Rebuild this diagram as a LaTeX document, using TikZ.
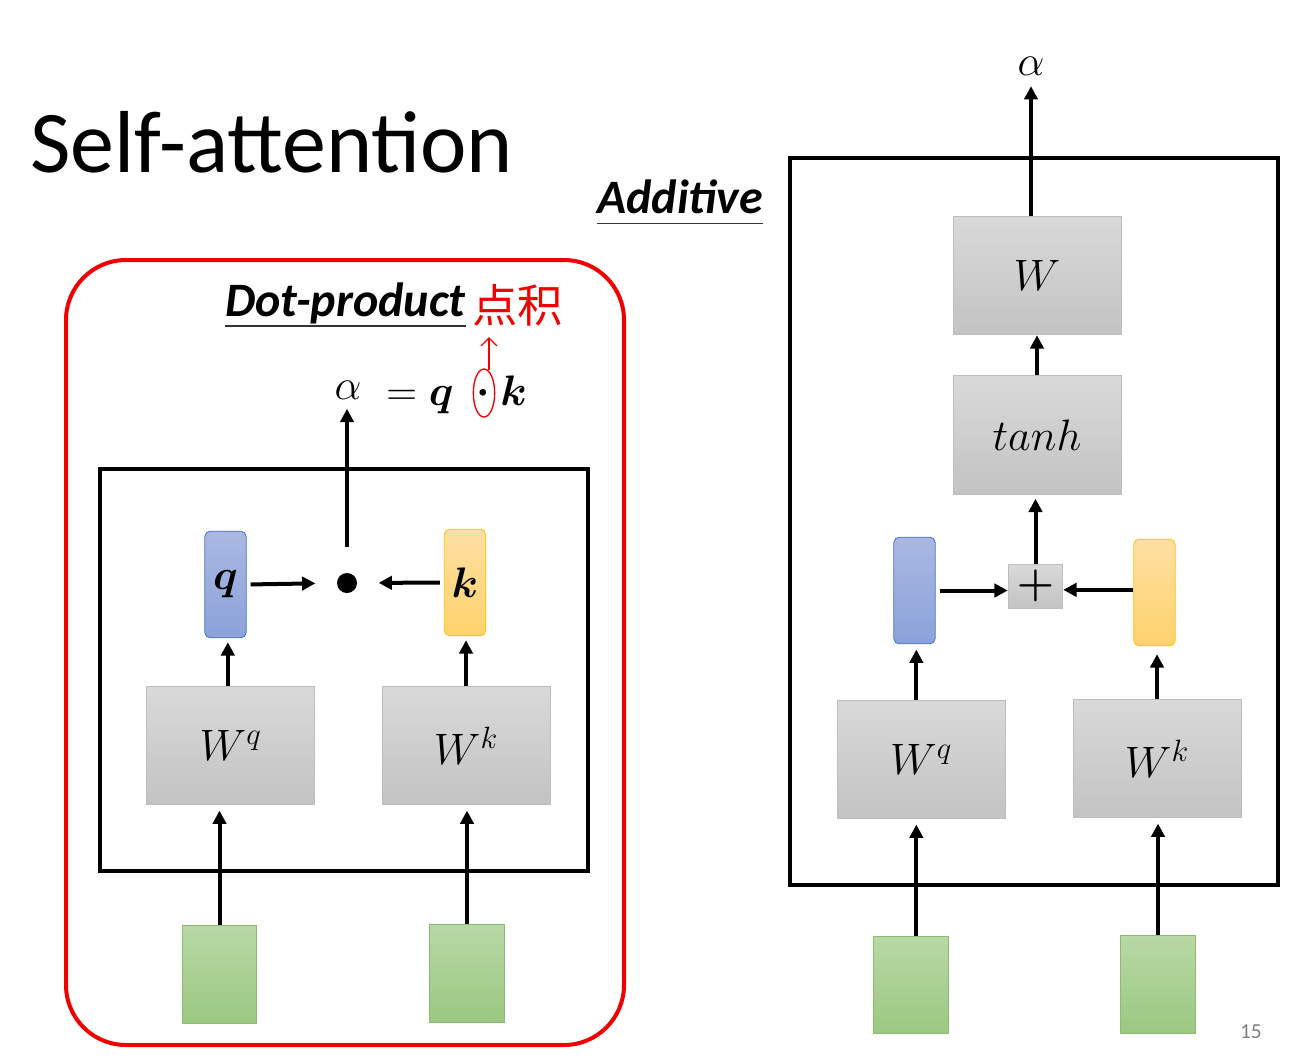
\RequirePackage{fix-cm}
\documentclass[tikz,border=0pt]{standalone}
\usepackage{amsmath}
\usepackage{fontspec}
\setmainfont{Carlito}
\newfontfamily\cjk{Noto Sans CJK SC}
\usetikzlibrary{arrows.meta}
\definecolor{grayT}{HTML}{D9D9D9}
\definecolor{grayB}{HTML}{C3C3C3}
\definecolor{grayE}{HTML}{BDBDBD}
\definecolor{blueT}{HTML}{AAB8E2}
\definecolor{blueB}{HTML}{8BA2DA}
\definecolor{blueE}{HTML}{4472C4}
\definecolor{orT}{HTML}{FFE0A3}
\definecolor{orB}{HTML}{FFD26C}
\definecolor{orE}{HTML}{FFC000}
\definecolor{grT}{HTML}{B8D8A6}
\definecolor{grB}{HTML}{9BC881}
\definecolor{grE}{HTML}{8CBB72}
\definecolor{redA}{HTML}{F20000}
\begin{document}
\begin{tikzpicture}[x=0.75pt,y=-0.75pt,
  arr/.style={line width=3pt,-{Triangle[length=10pt,width=10pt]}},
  wbox/.style={draw=grayE,line width=0.6pt,top color=grayT,bottom color=grayB,
    minimum width=126pt,minimum height=89pt,inner sep=0pt,font=\fontsize{33}{38}\selectfont},
  vecq/.style={draw=blueE,line width=0.6pt,top color=blueT,bottom color=blueB,rounded corners=4pt,
    minimum width=31pt,minimum height=80pt,inner sep=0pt,font=\fontsize{32}{38}\selectfont},
  veck/.style={draw=orE,line width=0.6pt,top color=orT,bottom color=orB,rounded corners=4pt,
    minimum width=31pt,minimum height=80pt,inner sep=0pt,font=\fontsize{32}{38}\selectfont},
  inbox/.style={draw=grE,line width=0.6pt,top color=grT,bottom color=grB,
    minimum width=56pt,minimum height=73pt,inner sep=0pt},
  frame/.style={draw=black,line width=3.3pt},
  heading/.style={font=\fontsize{36}{40}\selectfont\bfseries\itshape,inner sep=0pt,anchor=base west},
  mathlbl/.style={font=\fontsize{32}{38}\selectfont,inner sep=0pt}
]
\useasboundingbox (0,0) rectangle (1300,1058);

% title
\node[anchor=base west,inner sep=0pt,font=\fontsize{66}{70}\selectfont] (title) at (30,172) {Self-attention};
\node[anchor=base east,inner sep=0pt,font=\fontsize{16}{18}\selectfont,text=gray] (pg) at (1262,1038) {15};

% ===== left: dot-product =====
\draw[redA,line width=3pt,rounded corners=45pt] (66,260) rectangle (624,1045);
\draw[frame] (100,469) rectangle (588,871);

\node[heading] (dp) at (225,316) {Dot-product};
\draw[line width=1pt,black!80] ([yshift=-7.5pt]dp.base west) -- ([yshift=-7.5pt]dp.base east);

\node[vecq] (q1) at (225.5,584.5) {$\boldsymbol{q}$};
\node[veck] (k1) at (465,582.5) {$\boldsymbol{k}$};
\node[circle,fill=black,minimum size=15pt,inner sep=0pt] (dot) at (347,583) {};
\node[wbox] (Wq1) at (230.5,745.5) {$W^{q}$};
\node[wbox] (Wk1) at (466,745.5) {$W^{k}$};
\node[inbox] (x1) at (219.5,974.5) {};
\node[inbox] (x2) at (467,973.5) {};

\node[mathlbl] (a1) at (348,390) {$\alpha$};
\node[mathlbl,anchor=base west] (eq) at (386,405) {$=\boldsymbol{q}$};
\node[mathlbl] (cd) at (483,393) {$\boldsymbol{\cdot}$};
\node[mathlbl,anchor=base west] (kk) at (500,405) {$\boldsymbol{k}$};

\draw[arr,shorten >=4pt] (x1.north) -- (x1.north |- Wq1.south);
\draw[arr,shorten >=4pt] (x2.north) -- (x2.north |- Wk1.south);
\draw[arr,shorten >=3pt] ([xshift=-2pt]Wq1.north) -- ([xshift=-2pt]Wq1.north |- q1.south);
\draw[arr,shorten >=3pt] (Wk1.north) -- (Wk1.north |- k1.south);
\draw[arr,shorten <=3pt,shorten >=16pt] (q1.east) -- (dot.west);
\draw[arr,shorten <=3pt,shorten >=16pt] (k1.west) -- (dot.east);
\draw[arr,shorten <=19pt,shorten >=7pt] (dot.north) -- (dot.north |- a1.south);

% handwritten annotation
\node[text=redA,font=\cjk\fontsize{34}{36}\selectfont,anchor=west,inner sep=0pt] (zh) at (472,305) {点积};
\draw[redA,line width=1pt] (484,393) ellipse [x radius=8pt,y radius=18pt];
\coordinate (ctop) at (489,370);
\coordinate (atip) at (489,337);
\draw[redA,line width=1pt,-{Straight Barb[length=6pt,width=12pt]}] (ctop) -- (atip);

% ===== right: additive =====
\draw[frame] (790,158) rectangle (1278,885);
\node[heading] (ad) at (597,213) {Additive};
\draw[line width=1pt,black!80] ([yshift=-8pt]ad.base west) -- ([yshift=-8pt]ad.base east);

\node[wbox] (W) at (1037,275.5) {$W$};
\node[wbox] (th) at (1037,435) {$tanh$};
\node[draw=grayE,line width=0.6pt,top color=grayT,bottom color=grayB,minimum width=41pt,minimum height=33pt,inner sep=0pt,font=\fontsize{32}{34}\selectfont] (plus) at (1035.5,586) {$\boldsymbol{+}$};
\node[vecq] (q2) at (914.5,590.5) {};
\node[veck] (k2) at (1154.5,592.5) {};
\node[wbox] (Wq2) at (921,759.5) {$W^{q}$};
\node[wbox] (Wk2) at (1157,758.5) {$W^{k}$};
\node[inbox] (x3) at (911,985) {};
\node[inbox] (x4) at (1158,984.5) {};
\node[mathlbl] (a2) at (1031,66) {$\alpha$};

\draw[arr,shorten >=4pt] ([xshift=4pt]x3.north) -- ([xshift=4pt]x3.north |- Wq2.south);
\draw[arr,shorten >=4pt] (x4.north) -- (x4.north |- Wk2.south);
\draw[arr,shorten >=4pt] ([xshift=-3.5pt]Wq2.north) -- ([xshift=-3.5pt]Wq2.north |- q2.south);
\draw[arr,shorten >=6pt] (Wk2.north) -- (Wk2.north |- k2.south);
\draw[arr,shorten <=3pt] (q2.east) -- (q2.east -| plus.west);
\draw[arr] ([yshift=2pt]k2.west) -- ([yshift=2pt]k2.west -| plus.east);
\draw[arr,shorten >=3pt] (plus.north) -- (plus.north |- th.south);
\draw[arr] (th.north) -- (th.north |- W.south);
\draw[arr,shorten >=8pt] ([xshift=-4.5pt]W.north) -- ([xshift=-4.5pt]W.north |- a2.south);
\end{tikzpicture}
\end{document}
